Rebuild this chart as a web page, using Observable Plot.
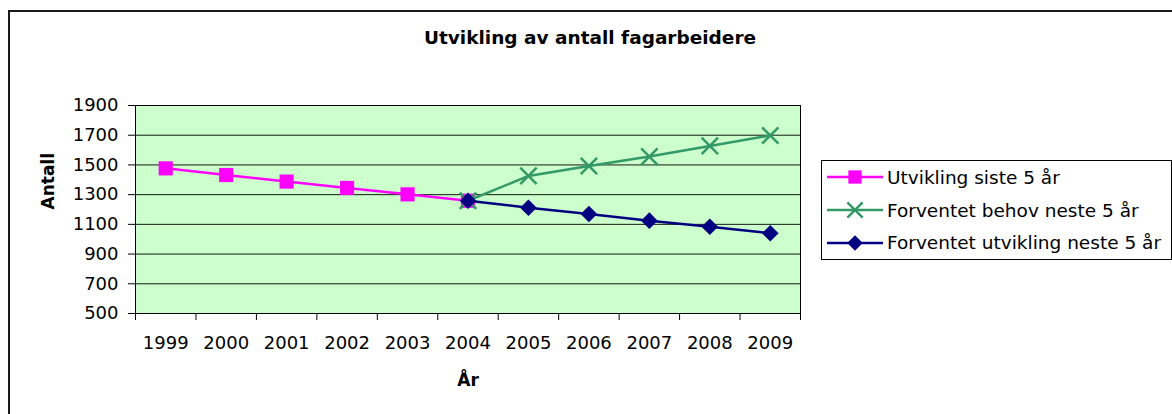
<!DOCTYPE html>
<html>
<head>
<meta charset="utf-8">
<script src="https://cdn.jsdelivr.net/npm/d3@7"></script>
<script src="https://cdn.jsdelivr.net/npm/@observablehq/plot@0.6"></script>
<style>
html, body { margin: 0; padding: 0; background: #fff; }
body { width: 1172px; height: 414px; position: relative; overflow: hidden; font-family: "DejaVu Sans", sans-serif; color: #000; }
#border { position: absolute; left: 8px; top: 10px; width: 1300px; height: 600px; border-left: 2px solid #1a1a1a; border-top: 2px solid #1a1a1a; }
#chart { position: absolute; left: 0; top: 0; }
#title { position: absolute; left: 390px; top: 27px; width: 400px; text-align: center; font-weight: bold; font-size: 18.5px; line-height: 22px; }
#legend { position: absolute; left: 821px; top: 160px; width: 349px; height: 98px; border: 1px solid #000; background: #fff; }
.row { display: flex; align-items: center; height: 32.7px; }
.row svg { margin-left: 5px; flex: none; }
.row span { margin-left: 4px; font-size: 18.5px; white-space: nowrap; }
</style>
</head>
<body>
<div id="border"></div>
<div id="chart"></div>
<div id="title"></div>
<div id="legend"></div>
<script>
const title = "Utvikling av antall fagarbeidere";
const xTitle = "År";
const yTitle = "Antall";
const years = [1999, 2000, 2001, 2002, 2003, 2004, 2005, 2006, 2007, 2008, 2009];
const histYears = [1999, 2000, 2001, 2002, 2003, 2004];
const histValues = [1477, 1432, 1388, 1345, 1302, 1259];
const futureYears = [2004, 2005, 2006, 2007, 2008, 2009];
const behovValues = [1259, 1426, 1493, 1556, 1628, 1698];
const utviklingValues = [1259, 1212, 1170, 1125, 1084, 1040];
const yTicks = [500, 700, 900, 1100, 1300, 1500, 1700, 1900];
const seriesNames = ["Utvikling siste 5 år", "Forventet behov neste 5 år", "Forventet utvikling neste 5 år"];
const seriesColors = ["#FF00FF", "#339966", "#000080"];
const seriesSymbols = ["square", "times", "diamond2"];

const hist = histYears.map((year, i) => ({year, value: histValues[i]}));
const behov = futureYears.map((year, i) => ({year, value: behovValues[i]}));
const utv = futureYears.map((year, i) => ({year, value: utviklingValues[i]}));
const boundaries = years.map(y => y - 0.5).concat([years[years.length - 1] + 0.5]);

const chart = Plot.plot({
  width: 1172,
  height: 414,
  marginLeft: 135,
  marginRight: 372,
  marginTop: 105,
  marginBottom: 101,
  style: {fontFamily: '"DejaVu Sans", sans-serif', fontSize: "18px", color: "#000", background: "transparent", overflow: "visible"},
  x: {domain: [boundaries[0], boundaries[boundaries.length - 1]], axis: null},
  y: {domain: [yTicks[0], yTicks[yTicks.length - 1]], axis: null},
  marks: [
    Plot.frame({fill: "#CCFFCC", stroke: null}),
    Plot.gridY(yTicks, {stroke: "#000", strokeOpacity: 0.9, strokeWidth: 1}),
    Plot.axisY(yTicks, {tickSize: 7, tickPadding: 10, label: null, tickFormat: d => String(d), fontSize: 18, stroke: "#000"}),
    Plot.axisX(boundaries, {tickSize: 7, tickFormat: () => "", label: null, stroke: "#000"}),
    Plot.axisX(years, {tickSize: 0, tickPadding: 23, tickFormat: d => String(d), label: null, fontSize: 18}),
    Plot.frame({stroke: "#000", strokeWidth: 1}),
    Plot.line(hist, {x: "year", y: "value", stroke: seriesColors[0], strokeWidth: 2.5}),
    Plot.dot(hist, {x: "year", y: "value", symbol: seriesSymbols[0], r: 8, fill: seriesColors[0]}),
    Plot.line(behov, {x: "year", y: "value", stroke: seriesColors[1], strokeWidth: 2.5}),
    Plot.dot(behov, {x: "year", y: "value", symbol: seriesSymbols[1], r: 7.5, stroke: seriesColors[1], strokeWidth: 2.5}),
    Plot.line(utv, {x: "year", y: "value", stroke: seriesColors[2], strokeWidth: 2.5}),
    Plot.dot(utv, {x: "year", y: "value", symbol: seriesSymbols[2], r: 7.5, fill: seriesColors[2]}),
    Plot.text([yTitle], {frameAnchor: "left", dx: -87, rotate: -90, fontWeight: "bold", fontSize: 17}),
    Plot.text([xTitle], {frameAnchor: "bottom", dy: 72, fontWeight: "bold", fontSize: 17})
  ]
});
document.getElementById("chart").appendChild(chart);
document.getElementById("title").textContent = title;

const d3Symbols = {square: d3.symbolSquare, times: d3.symbolTimes, diamond2: d3.symbolDiamond2};
const sizes = [7.5, 7, 7];
const legend = d3.select("#legend");
seriesNames.forEach((name, i) => {
  const row = legend.append("div").attr("class", "row");
  const svg = row.append("svg").attr("width", 56).attr("height", 20);
  svg.append("line").attr("x1", 0).attr("x2", 56).attr("y1", 10).attr("y2", 10)
    .attr("stroke", seriesColors[i]).attr("stroke-width", 2.5);
  const path = d3.symbol().type(d3Symbols[seriesSymbols[i]]).size(Math.PI * sizes[i] * sizes[i])();
  const p = svg.append("path").attr("d", path).attr("transform", "translate(28,10)");
  if (seriesSymbols[i] === "times") p.attr("fill", "none").attr("stroke", seriesColors[i]).attr("stroke-width", 2.5);
  else p.attr("fill", seriesColors[i]);
  row.append("span").text(name);
});
</script>
</body>
</html>
